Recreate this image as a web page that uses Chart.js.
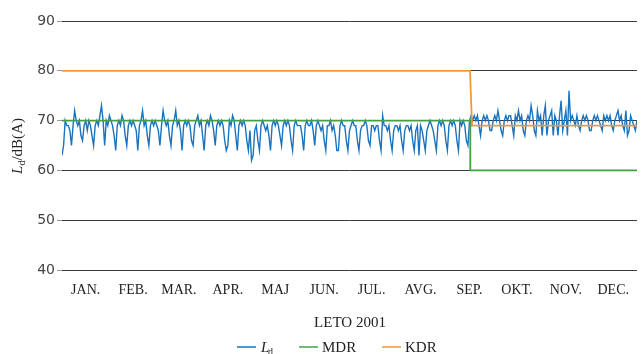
<!DOCTYPE html>
<html>
<head>
<meta charset="utf-8">
<script src="https://cdn.jsdelivr.net/npm/chart.js@4/dist/chart.umd.min.js"></script>
<style>
  html, body { margin: 0; padding: 0; background: #fff; }
  #wrap { width: 641px; height: 354px; position: relative; }
</style>
</head>
<body>
<div id="wrap"><canvas id="chart" width="641" height="354"></canvas></div>
<script>
// Daily L_d values (dB(A)), 2001, one array per month
const jan = [63,65,70,69,69,68,65, 69,72,70,69,70,67,66, 69,70,68,70,69,67,65, 69,70,69,71,73,70,65, 70,69,71];
const feb = [70,69,67,64, 69,70,69,71,70,67,65, 69,70,69,70,69,68,64, 69,70,72,69,70,67,65, 69,70,69];
const mar = [70,69,68,65, 69,72,70,69,70,67,65, 69,70,72,69,70,68,64, 69,70,69,70,69,66,65, 69,70,71,69,70,67];
const apr = [64, 69,70,69,71,70,68,65, 69,70,69,70,69,66,64, 65,70,69,71,70,67,64, 69,70,69,70,69,66,64, 68];
const may = [62,63,68,69,66,64, 69,70,69,68,69,67,64, 69,70,69,70,69,67,65, 69,70,69,70,69,66,64, 69,70,69,69];
const jun = [69,67,64, 69,70,69,69,70,68,65, 69,70,69,68,69,66,64, 69,69,70,68,69,67,64, 64,69,70,69,69,66];
const jul = [64, 68,69,70,69,69,66,64, 68,69,69,70,69,66,65, 69,69,68,69,69,66,64, 71,69,69,68,69,66,64, 68,69];
const aug = [69,68,69,66,64, 68,69,69,68,69,66,64, 68,69,63,69,68,66,64, 68,69,70,69,68,66,64, 69,70,69,70,69];
const sep = [66,64, 69,70,69,70,69,66,64, 70,69,70,69,66,65,70, 71,70,71,70,71,69,67, 70,71,70,71,70,68,68];
const oct = [70,71,70,72,70,68,67, 70,71,70,71,71,69,67, 71,70,72,70,71,68,67, 70,71,70,73,71,68,67, 72,70,71];
const nov = [67,71,73,67, 70,71,72,67,71,70,67, 71,74,68,70,72,67,76, 70,71,70,69,71,69,68, 70,71,70,71,70];
const dec = [68,68, 70,71,70,71,70,69,68, 71,70,71,70,71,69,68, 70,71,72,70,71,69,68, 72,67,68,71,70,69,68,70];

const ldValues = [].concat(jan, feb, mar, apr, may, jun, jul, aug, sep, oct, nov, dec);

// limit values (day of year index, dB(A))
const mdrDays = [0, 258.5, 258.5, 364];
const mdrValues = [70, 70, 60, 60];
const kdrDays = [0, 258.3, 259.6, 364];
const kdrValues = [80, 80, 69, 69];

const monthLabels = ["JAN.", "FEB.", "MAR.", "APR.", "MAJ", "JUN.", "JUL.", "AVG.", "SEP.", "OKT.", "NOV.", "DEC."];
const monthTickDays = [15, 45, 74, 105, 135, 166, 196, 227, 258, 288, 319, 349];
const yTicks = [40, 50, 60, 70, 80, 90];

const xTitle = "LETO 2001";

const pts = (xs, ys) => ys.map((y, i) => ({ x: xs[i], y }));

const BLUE = "#1a73bf";
const GREEN = "#43a047";
const ORANGE = "#f09a3a";
const SERIF = "'Liberation Serif', 'Times New Roman', serif";

// draws the y title, x title and legend (L with subscript d)
const extras = {
  id: "extras",
  afterDraw(chart) {
    const ctx = chart.ctx;
    ctx.save();
    ctx.fillStyle = "#222";
    ctx.textBaseline = "alphabetic";

    // y axis title, rotated
    ctx.save();
    ctx.translate(22, 146);
    ctx.rotate(-Math.PI / 2);
    ctx.font = "italic 15px " + SERIF;
    const wL = ctx.measureText("L").width;
    ctx.font = "10px " + SERIF;
    const wd = ctx.measureText("d").width;
    ctx.font = "15px " + SERIF;
    const wRest = ctx.measureText("/dB(A)").width;
    let x0 = -(wL + wd + wRest) / 2;
    ctx.font = "italic 15px " + SERIF;
    ctx.fillText("L", x0, 0);
    ctx.font = "10px " + SERIF;
    ctx.fillText("d", x0 + wL, 3);
    ctx.font = "15px " + SERIF;
    ctx.fillText("/dB(A)", x0 + wL + wd, 0);
    ctx.restore();

    // x title
    ctx.font = "15px " + SERIF;
    ctx.textAlign = "center";
    ctx.fillText(xTitle, 350, 327);

    // legend
    ctx.textAlign = "left";
    const ly = 347;
    const seg = (x, color) => {
      ctx.strokeStyle = color;
      ctx.lineWidth = 1.5;
      ctx.beginPath();
      ctx.moveTo(x, ly);
      ctx.lineTo(x + 19, ly);
      ctx.stroke();
    };
    seg(237, BLUE);
    ctx.font = "italic 15px " + SERIF;
    ctx.fillText("L", 261, ly + 5);
    ctx.font = "10px " + SERIF;
    ctx.fillText("d", 261 + ctx.measureText("L").width + 1, ly + 8);
    seg(299, GREEN);
    ctx.font = "15px " + SERIF;
    ctx.fillText("MDR", 322, ly + 5);
    seg(382, ORANGE);
    ctx.fillText("KDR", 405, ly + 5);
    ctx.restore();
  }
};

new Chart(document.getElementById("chart"), {
  type: "line",
  data: {
    datasets: [
      {
        label: "MDR",
        data: pts(mdrDays, mdrValues),
        borderColor: GREEN,
        borderWidth: 1.8,
        pointRadius: 0,
        tension: 0,
      },
      {
        label: "KDR",
        data: pts(kdrDays, kdrValues),
        borderColor: ORANGE,
        borderWidth: 1.8,
        pointRadius: 0,
        tension: 0,
      },
      {
        label: "Ld",
        data: ldValues.map((v, i) => ({ x: i, y: v })),
        borderColor: BLUE,
        borderWidth: 1.4,
        pointRadius: 0,
        tension: 0,
      },
    ],
  },
  options: {
    responsive: false,
    animation: false,
    layout: { padding: { top: 21, right: 0, left: 0, bottom: 0 } },
    plugins: { legend: { display: false }, tooltip: { enabled: false } },
    scales: {
      x: {
        type: "linear",
        min: 0,
        max: 364,
        afterBuildTicks: (axis) => {
          axis.ticks = monthTickDays.map((d) => ({ value: d }));
        },
        afterFit: (axis) => { axis.height = 84; },
        grid: { display: false, drawTicks: false },
        border: { display: false },
        ticks: {
          padding: 12,
          autoSkip: false,
          maxRotation: 0,
          color: "#222",
          font: { family: SERIF, size: 14 },
          callback: (v, i) => monthLabels[i],
        },
      },
      y: {
        min: 40,
        max: 90,
        afterBuildTicks: (axis) => {
          axis.ticks = yTicks.map((v) => ({ value: v }));
        },
        afterFit: (axis) => { axis.width = 62; },
        grid: { color: "#3a3a3a", lineWidth: 1, tickLength: 5, tickColor: "#999" },
        border: { display: false },
        ticks: {
          padding: 2,
          color: "#444",
          font: { family: "'DejaVu Sans', sans-serif", size: 14 },
        },
      },
    },
  },
  plugins: [extras],
});
</script>
</body>
</html>
